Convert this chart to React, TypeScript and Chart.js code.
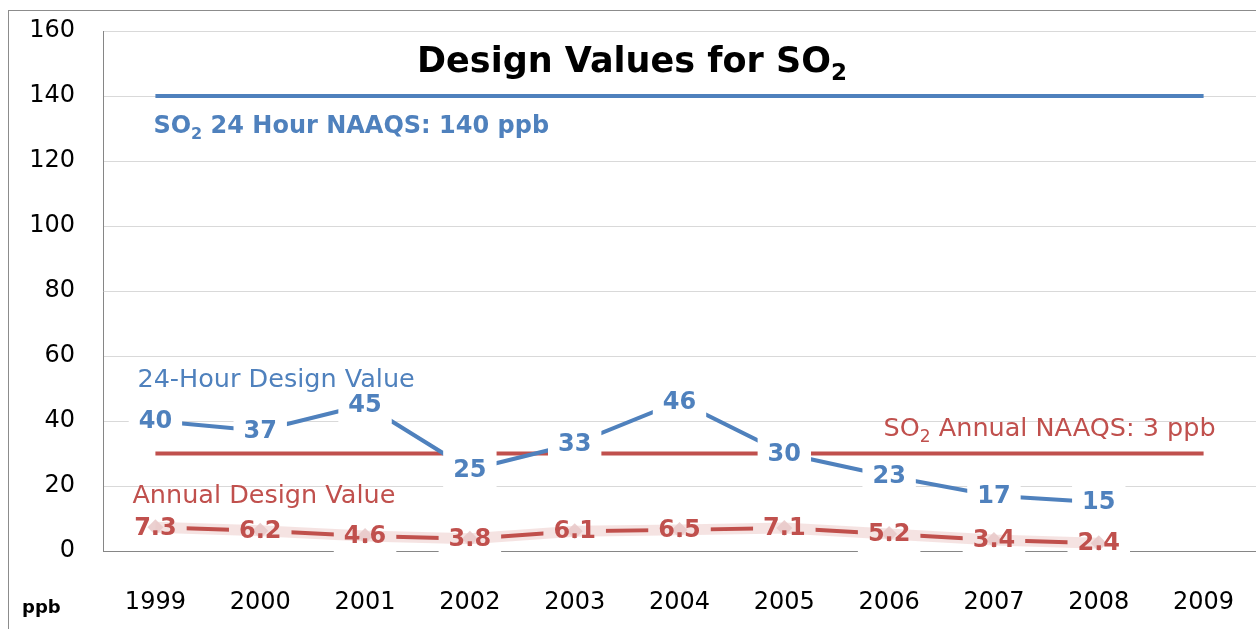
import React, { useEffect, useRef } from "react";
import { Chart, registerables } from "chart.js";

Chart.register(...registerables);

const FONT = "'DejaVu Sans', 'Open Sans', sans-serif";

const years = ["1999", "2000", "2001", "2002", "2003", "2004", "2005", "2006", "2007", "2008", "2009"];
const hourDesignValues = [40, 37, 45, 25, 33, 46, 30, 23, 17, 15, null];
const annualDesignValues = [7.3, 6.2, 4.6, 3.8, 6.1, 6.5, 7.1, 5.2, 3.4, 2.4, null];
const hourDesignLabels = ["40", "37", "45", "25", "33", "46", "30", "23", "17", "15", ""];
const annualDesignLabels = ["7.3", "6.2", "4.6", "3.8", "6.1", "6.5", "7.1", "5.2", "3.4", "2.4", ""];
const hourStandard = [140, 140, 140, 140, 140, 140, 140, 140, 140, 140, 140];
const annualStandard = [30, 30, 30, 30, 30, 30, 30, 30, 30, 30, 30];
const yMin = 0;
const yMax = 160;
const yStep = 20;

const BLUE = "#4F81BD";
const RED = "#C0504D";

type Part = { t: string; sub?: boolean };

function drawRich(
  ctx: CanvasRenderingContext2D,
  x: number,
  y: number,
  parts: Part[],
  align: "left" | "center" | "right",
  size: number,
  weight: string,
  color: string
) {
  const subSize = Math.round(size * 0.65);
  const fontFor = (p: Part) => `${weight} ${p.sub ? subSize : size}px ${FONT}`;
  let total = 0;
  const widths = parts.map((p) => {
    ctx.font = fontFor(p);
    const w = ctx.measureText(p.t).width;
    total += w;
    return w;
  });
  let cx = align === "left" ? x : align === "center" ? x - total / 2 : x - total;
  ctx.fillStyle = color;
  ctx.textAlign = "left";
  ctx.textBaseline = "middle";
  parts.forEach((p, i) => {
    ctx.font = fontFor(p);
    ctx.fillText(p.t, cx, p.sub ? y + size * 0.32 : y);
    cx += widths[i];
  });
}

const zeroPadding = () => ({ left: 0, top: 0, right: 0, bottom: 0 });

const overlay = {
  id: "overlay",
  beforeDraw(chart: any) {
    const ctx = chart.ctx as CanvasRenderingContext2D;
    ctx.save();
    ctx.fillStyle = "#ffffff";
    ctx.fillRect(0, 0, chart.width, chart.height);
    ctx.strokeStyle = "#8c8c8c";
    ctx.lineWidth = 1;
    ctx.strokeRect(8.5, 10.5, chart.width + 20, chart.height + 20);
    ctx.restore();
  },
  afterDatasetDraw(chart: any, args: any) {
    if (args.index !== 3) return;
    const ctx = chart.ctx as CanvasRenderingContext2D;
    ctx.save();
    ctx.font = `bold 24px ${FONT}`;
    const boxes = (dsIndex: number, labels: string[]) => {
      const meta = chart.getDatasetMeta(dsIndex);
      meta.data.forEach((pt: any, i: number) => {
        const txt = labels[i];
        if (!txt) return;
        const w = ctx.measureText(txt).width + 20;
        const h = 38;
        ctx.fillStyle = "#ffffff";
        ctx.fillRect(pt.x - w / 2, pt.y - h / 2, w, h);
      });
    };
    boxes(2, hourDesignLabels);
    boxes(3, annualDesignLabels);
    ctx.restore();
  },
  afterDatasetsDraw(chart: any) {
    const ctx = chart.ctx as CanvasRenderingContext2D;
    const xs = chart.scales.x;
    const ys = chart.scales.y;
    ctx.save();
    const texts = (dsIndex: number, labels: string[], color: string) => {
      const meta = chart.getDatasetMeta(dsIndex);
      meta.data.forEach((pt: any, i: number) => {
        const txt = labels[i];
        if (!txt) return;
        ctx.font = `bold 24px ${FONT}`;
        ctx.fillStyle = color;
        ctx.textAlign = "center";
        ctx.textBaseline = "middle";
        ctx.fillText(txt, pt.x, pt.y + 1);
      });
    };
    texts(2, hourDesignLabels, BLUE);
    texts(3, annualDesignLabels, RED);

    // Title
    drawRich(ctx, 632, 63, [{ t: "Design Values for SO" }, { t: "2", sub: true }], "center", 35, "bold", "#000000");

    // Annotations
    drawRich(
      ctx,
      xs.getPixelForValue(0) - 2,
      ys.getPixelForValue(130.5),
      [{ t: "SO" }, { t: "2", sub: true }, { t: " 24 Hour NAAQS: 140 ppb" }],
      "left",
      24,
      "bold",
      BLUE
    );
    drawRich(ctx, xs.getPixelForValue(0) - 18, ys.getPixelForValue(52.6), [{ t: "24-Hour Design Value" }], "left", 25.5, "normal", BLUE);
    drawRich(ctx, xs.getPixelForValue(0) - 23, ys.getPixelForValue(16.8), [{ t: "Annual Design Value" }], "left", 25.5, "normal", RED);
    drawRich(
      ctx,
      xs.getPixelForValue(10) + 12,
      ys.getPixelForValue(37.3),
      [{ t: "SO" }, { t: "2", sub: true }, { t: " Annual NAAQS: 3 ppb" }],
      "right",
      25.5,
      "normal",
      RED
    );

    // Unit
    ctx.font = `bold 18px ${FONT}`;
    ctx.fillStyle = "#000000";
    ctx.textAlign = "left";
    ctx.textBaseline = "middle";
    ctx.fillText("ppb", 22, 608);
    ctx.restore();
  },
};

export default function App() {
  const ref = useRef<HTMLCanvasElement>(null);
  useEffect(() => {
    const canvas = ref.current!;
    const chart = new Chart(canvas, {
      type: "line",
      data: {
        labels: years,
        datasets: [
          {
            label: "SO2 24 Hour NAAQS",
            data: hourStandard,
            borderColor: BLUE,
            borderWidth: 4,
            pointRadius: 0,
            order: 50,
          },
          {
            label: "SO2 Annual NAAQS (x10)",
            data: annualStandard,
            borderColor: RED,
            borderWidth: 4,
            pointRadius: 0,
            order: 40,
          },
          {
            label: "24-Hour Design Value",
            data: hourDesignValues,
            borderColor: BLUE,
            borderWidth: 4,
            pointRadius: 0,
            order: 30,
          },
          {
            label: "Annual Design Value",
            data: annualDesignValues,
            borderColor: RED,
            borderWidth: 4,
            pointRadius: 0,
            order: 20,
          },
          {
            label: "Annual Design Value glow",
            data: annualDesignValues,
            borderColor: "rgba(192, 80, 77, 0.16)",
            borderWidth: 11,
            pointStyle: "rectRot",
            pointRadius: 8,
            pointBackgroundColor: "rgba(232, 200, 200, 0.85)",
            pointBorderWidth: 0,
            order: 10,
          },
        ],
      },
      options: {
        animation: false,
        responsive: false,
        devicePixelRatio: 1,
        layout: { autoPadding: false, padding: { top: 31, right: 0, bottom: 0, left: 0 } },
        plugins: {
          legend: { display: false },
          tooltip: { enabled: false },
          title: { display: false },
        },
        scales: {
          x: {
            type: "category",
            offset: true,
            grid: { display: false, drawTicks: false },
            border: { display: true, color: "#868686", width: 1 },
            ticks: {
              font: { family: FONT, size: 24 },
              color: "#000000",
              padding: 37,
              maxRotation: 0,
              autoSkip: false,
            },
            afterFit: (s: any) => {
              s.height = 78;
              s.paddingLeft = 0;
              s.paddingRight = 0;
              s.getPadding = zeroPadding;
            },
          },
          y: {
            min: yMin,
            max: yMax,
            ticks: {
              stepSize: yStep,
              font: { family: FONT, size: 24 },
              color: "#000000",
              padding: 28,
            },
            grid: { color: "#d9d9d9", drawTicks: false },
            border: { color: "#868686" },
            afterFit: (s: any) => {
              s.width = 103;
              s.paddingTop = 0;
              s.paddingBottom = 0;
              s.getPadding = zeroPadding;
            },
          },
        },
      },
      plugins: [overlay],
    } as any);
    return () => chart.destroy();
  }, []);
  return (
    <div style={{ position: "fixed", left: 0, top: 0, width: 1256, height: 629, background: "#fff" }}>
      <canvas ref={ref} width={1256} height={629} style={{ width: 1256, height: 629, display: "block" }} />
    </div>
  );
}
